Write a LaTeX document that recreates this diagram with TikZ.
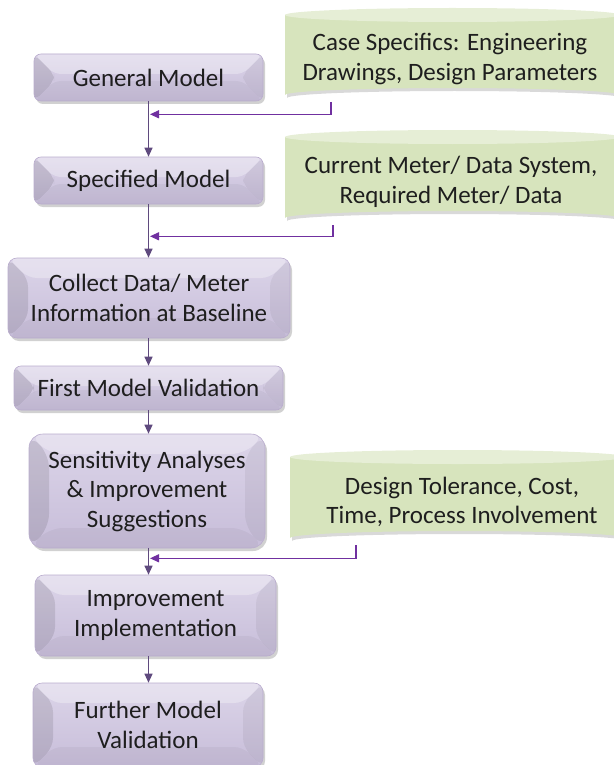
\documentclass[tikz,border=0pt]{standalone}
\usepackage{fontspec}
\setmainfont{Carlito}
\usetikzlibrary{arrows.meta,calc,shadows,positioning}
\definecolor{boxtop}{HTML}{DCD5E9}
\definecolor{boxbot}{HTML}{C7BDD9}
\definecolor{boxedge}{HTML}{B9ACCD}
\definecolor{cylbody}{HTML}{D7E4BD}
\definecolor{cyltop}{HTML}{E6EED6}
\definecolor{downarr}{HTML}{5F4A7E}
\definecolor{sidearr}{HTML}{7030A0}
\definecolor{txt}{HTML}{1E1E1E}
\begin{document}
\begin{tikzpicture}[x=1pt,y=-1pt,
  every node/.style={font=\fontsize{25}{29.5}\selectfont, text=txt},
  procbox/.style={draw=boxedge, line width=0.6pt, rounded corners=#1, top color=boxtop, bottom color=boxbot,
     align=center, inner sep=0pt,
     drop shadow={shadow xshift=2pt, shadow yshift=-3pt, opacity=0.3, fill=black!60},
     path picture={
       \fill[black, opacity=0.10] (path picture bounding box.north west) -- ($(path picture bounding box.north west)+(20,20)$) -- ($(path picture bounding box.south west)+(20,-20)$) -- (path picture bounding box.south west) -- cycle;
       \fill[black, opacity=0.05] (path picture bounding box.north east) -- ($(path picture bounding box.north east)+(-20,20)$) -- ($(path picture bounding box.south east)+(-20,-20)$) -- (path picture bounding box.south east) -- cycle;
       \fill[white, opacity=0.30] (path picture bounding box.north west) -- ($(path picture bounding box.north west)+(20,20)$) -- ($(path picture bounding box.north east)+(-20,20)$) -- (path picture bounding box.north east) -- cycle;
       \fill[black, opacity=0.04] (path picture bounding box.south west) -- ($(path picture bounding box.south west)+(20,-20)$) -- ($(path picture bounding box.south east)+(-20,-20)$) -- (path picture bounding box.south east) -- cycle;
     }},
  procbox/.default=7pt,
  cyltext/.style={align=center, inner sep=0pt, draw=none},
  downline/.style={draw=downarr, line width=1.2pt, -{Triangle[length=9pt,width=8pt]}},
  sideline/.style={draw=sidearr, line width=1.2pt, -{Triangle[length=9pt,width=8pt]}}
]
\useasboundingbox (0,0) rectangle (613,765);
% cylinders (drawn directly)
\newcommand{\cyl}[4]{% x1 x2 ytop ybot
  \pgfmathsetmacro{\rx}{(#2-#1)/2}
  \pgfmathsetmacro{\cx}{(#2+#1)/2}
  \fill[black!50, opacity=0.3] (#1+2,#3+10) -- (#1+2,#4-4) arc[start angle=180,end angle=360,x radius=\rx,y radius=7] -- (#2+2,#3+10) -- cycle;
  \fill[cylbody] (#1,#3+7) -- (#1,#4-7) arc[start angle=180,end angle=360,x radius=\rx,y radius=7] -- (#2,#3+7) -- cycle;
  \fill[cyltop] (\cx,#3+7) ellipse[x radius=\rx, y radius=7];
}
\cyl{285}{620}{8}{102}
\cyl{285}{620}{130}{225}
\cyl{290}{625}{450}{545}
\node[cyltext] (c1) at (450,59) {Case Specifics: Engineering\\Drawings, Design Parameters};
\node[cyltext] (c2) at (451,182) {Current Meter/ Data System,\\Required Meter/ Data};
\node[cyltext] (c3) at (462,502) {Design Tolerance, Cost,\\Time, Process Involvement};
\coordinate (c1b) at (331,102);
\coordinate (c2b) at (333,225);
\coordinate (c3b) at (356,545);
% process boxes
\node[procbox, minimum width=229pt, minimum height=47pt] (gm) at (148.5,77.5) {General Model};
\node[procbox, minimum width=229pt, minimum height=47pt] (sm) at (148.5,180.5) {Specified Model};
\node[procbox=9pt, minimum width=282pt, minimum height=80pt] (cd) at (149,298) {Collect Data/ Meter\\Information at Baseline};
\node[procbox, minimum width=269pt, minimum height=44pt] (fv) at (148.5,388) {First Model Validation};
\node[procbox=14pt, minimum width=236pt, minimum height=114pt] (sa) at (147,491) {Sensitivity Analyses\\\&\ Improvement\\Suggestions};
\node[procbox=9pt, minimum width=241pt, minimum height=81pt] (ii) at (155.5,615.5) {Improvement\\Implementation};
\node[procbox=9pt, minimum width=230pt, minimum height=84pt] (fm) at (148,725) {Further Model\\Validation};
% connectors
\draw[downline] (gm.south) -- (gm.south |- sm.north);
\draw[downline] (sm.south) -- (sm.south |- cd.north);
\draw[downline] (sm.south |- cd.south) -- (sm.south |- fv.north);
\draw[downline] (fv.south) -- (fv.south |- sa.north);
\draw[downline] (fv.south |- sa.south) -- (fv.south |- ii.north);
\draw[downline] (fv.south |- ii.south) -- (fv.south |- fm.north);
\draw[sideline] (c1b) |- ([xshift=1.5pt,yshift=-13pt]gm.south);
\draw[sideline] (c2b) |- ([xshift=1.5pt,yshift=-32pt]sm.south);
\draw[sideline] (c3b) |- ([xshift=1.5pt,yshift=-10pt]fv.south |- sa.south);
\end{tikzpicture}
\end{document}
